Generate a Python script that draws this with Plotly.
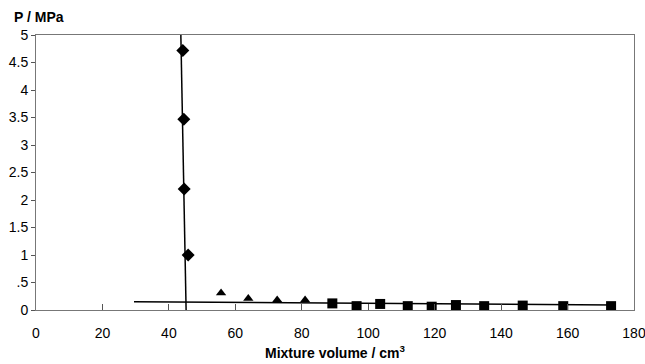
import plotly.graph_objects as go

# Data
diamond_x = [44.2, 44.5, 44.6, 45.8]
diamond_y = [4.72, 3.47, 2.2, 1.0]

triangle_x = [55.7, 63.9, 72.6, 81.0]
triangle_y = [0.31, 0.21, 0.18, 0.18]

square_x = [89.2, 96.5, 103.6, 111.9, 119.1, 126.4, 134.9, 146.5, 158.7, 173.1]
square_y = [0.12, 0.07, 0.11, 0.07, 0.06, 0.09, 0.07, 0.08, 0.07, 0.07]

vline_x = [43.6, 45.2]
vline_y = [5.0, -0.05]
hline_x = [29.5, 174.0]
hline_y = [0.15, 0.09]

x_ticks = [0, 20, 40, 60, 80, 100, 120, 140, 160, 180]
y_ticks = [0, 0.5, 1, 1.5, 2, 2.5, 3, 3.5, 4, 4.5, 5]
y_ticktext = ["0", ".5", "1", "1.5", "2", "2.5", "3", "3.5", "4", "4.5", "5"]

fig = go.Figure()
fig.add_trace(go.Scatter(x=vline_x, y=vline_y, mode="lines",
                         line=dict(color="black", width=1.5), showlegend=False, cliponaxis=False))
fig.add_trace(go.Scatter(x=hline_x, y=hline_y, mode="lines",
                         line=dict(color="black", width=1.5), showlegend=False))
fig.add_trace(go.Scatter(x=diamond_x, y=diamond_y, mode="markers",
                         marker=dict(symbol="diamond", size=10, color="black"), showlegend=False))
fig.add_trace(go.Scatter(x=triangle_x, y=triangle_y, mode="markers",
                         marker=dict(symbol="triangle-up", size=9, color="black"), showlegend=False))
fig.add_trace(go.Scatter(x=square_x, y=square_y, mode="markers",
                         marker=dict(symbol="square", size=10, color="black"), showlegend=False))

font = dict(family="Liberation Sans, Arial, sans-serif", size=14, color="black")

fig.update_layout(
    width=645, height=364,
    margin=dict(l=36, r=11, t=35, b=54),
    paper_bgcolor="white", plot_bgcolor="white",
    font=font,
    xaxis=dict(range=[0, 180], tickvals=x_ticks, ticks="inside", ticklen=6,
               tickcolor="#555", showgrid=False, zeroline=False, automargin=False,
               showline=True, linecolor="#777", linewidth=1, mirror=True,
               ticklabelstandoff=10, ticklabeloverflow="allow",
               title=dict(text="<b>Mixture volume / cm<sup>3</sup></b>", font=dict(size=14), standoff=8),
               tickfont=dict(size=14)),
    yaxis=dict(range=[0, 5], tickvals=y_ticks, ticktext=y_ticktext, ticks="outside",
               ticklen=4, tickcolor="#555", showgrid=False, zeroline=False, automargin=False,
               showline=True, linecolor="#777", linewidth=1, mirror=True,
               ticklabeloverflow="allow",
               tickfont=dict(size=14)),
    annotations=[dict(text="<b>P / MPa</b>", xref="paper", yref="paper",
                      x=-0.040, y=1.0, yshift=18, xanchor="left", yanchor="middle",
                      showarrow=False, font=dict(size=14))],
)

fig.write_html("out.html", config={"displayModeBar": False},
               post_script="document.body.style.margin='0';")
